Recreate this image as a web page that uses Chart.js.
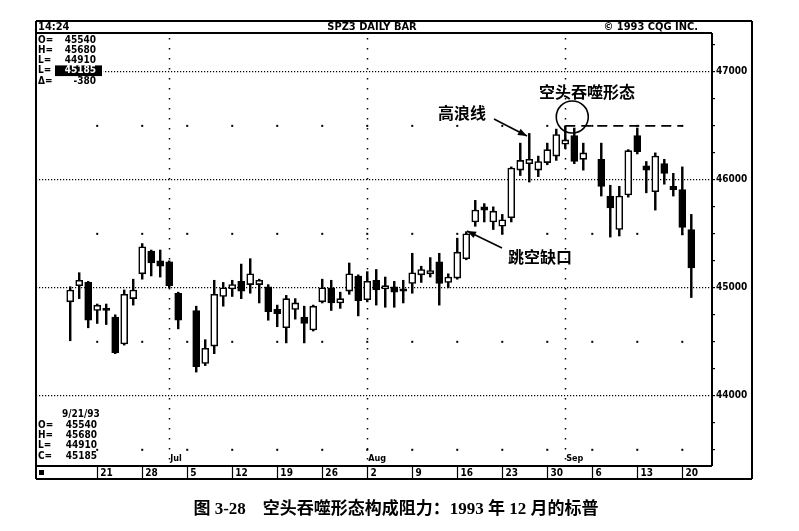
<!DOCTYPE html>
<html>
<head>
<meta charset="utf-8">
<script src="https://cdn.jsdelivr.net/npm/chart.js@4.4.0/dist/chart.umd.min.js"></script>
<style>
  html, body { margin: 0; padding: 0; background: #fff; }
  canvas { display: block; }
</style>
</head>
<body>
<canvas id="chart" width="799" height="531"></canvas>
<script>
// SPZ3 daily bars, Jun 16 - Sep 21 1993 (prices in chart units, 4700 = 470.00)
const dates = [
  '6/16', '6/17', '6/18', '6/21', '6/22', '6/23', '6/24', '6/25', '6/28', '6/29', '6/30',
  '7/1', '7/2', '7/6', '7/7', '7/8', '7/9', '7/12', '7/13', '7/14', '7/15', '7/16',
  '7/19', '7/20', '7/21', '7/22', '7/23', '7/26', '7/27', '7/28', '7/29', '7/30',
  '8/2', '8/3', '8/4', '8/5', '8/6', '8/9', '8/10', '8/11', '8/12', '8/13',
  '8/16', '8/17', '8/18', '8/19', '8/20', '8/23', '8/24', '8/25', '8/26', '8/27',
  '8/30', '8/31', '9/1', '9/2', '9/3', '9/7', '9/8', '9/9', '9/10',
  '9/13', '9/14', '9/15', '9/16', '9/17', '9/20', '9/21'
];
const opens = [
  4487, 4502, 4505, 4479, 4481, 4473, 4448, 4490, 4513, 4534, 4525,
  4524, 4495, 4479, 4430, 4446, 4492, 4499, 4506, 4503, 4503, 4501,
  4480, 4463, 4480, 4473, 4461, 4487, 4500, 4486, 4497, 4511,
  4489, 4507, 4499, 4501, 4499, 4504, 4512, 4513, 4524, 4505,
  4509, 4527, 4561, 4575, 4561, 4557, 4565, 4609, 4615, 4609,
  4616, 4622, 4633, 4641, 4619, 4619, 4585, 4554, 4586,
  4641, 4613, 4589, 4615, 4594, 4591, 4554
];
const highs = [
  4501, 4514, 4506, 4485, 4485, 4475, 4498, 4508, 4541, 4535, 4535,
  4525, 4496, 4483, 4452, 4507, 4505, 4507, 4522, 4527, 4508, 4503,
  4484, 4493, 4490, 4483, 4484, 4508, 4507, 4496, 4523, 4512,
  4515, 4517, 4510, 4506, 4507, 4532, 4520, 4528, 4532, 4513,
  4546, 4552, 4581, 4578, 4575, 4568, 4612, 4634, 4643, 4622,
  4634, 4647, 4650, 4648, 4634, 4634, 4595, 4594, 4628,
  4648, 4617, 4625, 4619, 4606, 4612, 4568
];
const lows = [
  4451, 4490, 4463, 4467, 4466, 4439, 4447, 4484, 4508, 4511, 4510,
  4500, 4462, 4422, 4428, 4439, 4483, 4492, 4490, 4495, 4486, 4470,
  4464, 4449, 4471, 4449, 4460, 4486, 4479, 4481, 4494, 4474,
  4487, 4484, 4482, 4482, 4486, 4495, 4505, 4510, 4484, 4500,
  4508, 4526, 4557, 4561, 4554, 4550, 4561, 4604, 4598, 4603,
  4614, 4618, 4629, 4615, 4609, 4585, 4547, 4548, 4584,
  4624, 4588, 4572, 4596, 4585, 4549, 4491
];
const closes = [
  4498, 4507, 4470, 4484, 4479, 4440, 4494, 4498, 4538, 4523, 4520,
  4502, 4470, 4427, 4444, 4494, 4500, 4503, 4497, 4513, 4507, 4478,
  4476, 4490, 4486, 4467, 4483, 4500, 4486, 4490, 4513, 4488,
  4506, 4498, 4502, 4496, 4497, 4514, 4517, 4516, 4504, 4510,
  4533, 4550, 4572, 4572, 4571, 4563, 4611, 4618, 4619, 4617,
  4628, 4642, 4637, 4617, 4625, 4594, 4574, 4585, 4627,
  4626, 4609, 4622, 4606, 4591, 4556, 4518.5
];

const weekLabels = ['21', '28', '5', '12', '19', '26', '2', '9', '16', '23', '30', '6', '13', '20'];
const monthNames = ['Jul', 'Aug', 'Sep'];
const monthStarts = ['7/1', '8/2', '9/1'];
const priceLabels = [4400, 4500, 4600, 4700];
const dotLevels = [4350, 4450, 4550, 4650];
const resistance = 4650;
const resistanceFrom = '9/1';
const resistanceTo = '9/20';

const headerLeft = '14:24';
const headerTitle = 'SPZ3 DAILY BAR';
const headerRight = '\u00a9 1993 CQG INC.';
const quoteTop = [['O=', '45540'], ['H=', '45680'], ['L=', '44910'], ['L=', '45185'], ['\u0394=', '-380']];
const quoteDate = '9/21/93';
const quoteBottom = [['O=', '45540'], ['H=', '45680'], ['L=', '44910'], ['C=', '45185']];
const caption = '图 3-28　空头吞噬形态构成阻力：1993 年 12 月的标普';

// weekday slot counted from Monday 14 June 1993 (holidays keep their slot)
const origin = Date.UTC(1993, 5, 14);
function slotOf(md) {
  const [m, d] = md.split('/').map(Number);
  const days = Math.round((Date.UTC(1993, m - 1, d) - origin) / 86400000);
  return Math.floor(days / 7) * 5 + (days % 7);
}

const slots = dates.map(slotOf);
const bodies = slots.map((x, i) => ({ x, y: [Math.min(opens[i], closes[i]), Math.max(opens[i], closes[i])] }));
const wicks = slots.map((x, i) => ({ x, y: [lows[i], highs[i]] }));
const bodyFill = closes.map((c, i) => (c >= opens[i] ? '#fff' : '#000'));

const CQG_FONT = '"DejaVu Sans Condensed", "DejaVu Sans", sans-serif';

function arrow(ctx, x1, y1, x2, y2) {
  ctx.beginPath();
  ctx.moveTo(x1, y1);
  ctx.lineTo(x2, y2);
  ctx.stroke();
  const a = Math.atan2(y2 - y1, x2 - x1), len = 9, w = 3.5;
  ctx.beginPath();
  ctx.moveTo(x2, y2);
  ctx.lineTo(x2 - len * Math.cos(a) + w * Math.sin(a), y2 - len * Math.sin(a) - w * Math.cos(a));
  ctx.lineTo(x2 - len * Math.cos(a) - w * Math.sin(a), y2 - len * Math.sin(a) + w * Math.cos(a));
  ctx.closePath();
  ctx.fill();
}

const overlay = {
  id: 'overlay',
  beforeDatasetsDraw(chart) {
    const { ctx, chartArea: area, scales: { x, y } } = chart;
    ctx.save();
    // month separators
    ctx.strokeStyle = '#000';
    ctx.lineWidth = 1.5;
    ctx.setLineDash([1.5, 8.5]);
    monthStarts.forEach(md => {
      const px = Math.round(x.getPixelForValue(slotOf(md))) + 0.5;
      ctx.beginPath();
      ctx.moveTo(px, area.top + 5);
      ctx.lineTo(px, area.bottom);
      ctx.stroke();
    });
    ctx.setLineDash([]);
    // sparse grid dots on the Mondays
    ctx.fillStyle = '#000';
    weekLabels.forEach((_, i) => {
      dotLevels.forEach(v => {
        ctx.fillRect(x.getPixelForValue(5 * (i + 1)) - 1, y.getPixelForValue(v) - 1, 2, 2);
      });
    });
    ctx.restore();
  },
  afterDraw(chart) {
    const { ctx, chartArea: area, scales: { x, y } } = chart;
    const L = area.left, R = area.right, T = area.top, B = area.bottom;
    const outerR = R + 40, outerT = T - 12, outerB = B + 13;
    ctx.save();

    // frame
    ctx.strokeStyle = '#000';
    ctx.lineWidth = 2;
    ctx.beginPath();
    ctx.moveTo(L, outerT); ctx.lineTo(outerR, outerT);
    ctx.moveTo(L, T); ctx.lineTo(R, T);
    ctx.moveTo(L, outerT); ctx.lineTo(L, outerB);
    ctx.moveTo(R, T); ctx.lineTo(R, B);
    ctx.moveTo(outerR, outerT); ctx.lineTo(outerR, outerB);
    ctx.moveTo(L, B); ctx.lineTo(R, B);
    ctx.moveTo(L, outerB); ctx.lineTo(outerR, outerB);
    ctx.stroke();

    // header
    ctx.fillStyle = '#000';
    ctx.font = 'bold 11px ' + CQG_FONT;
    ctx.textBaseline = 'middle';
    ctx.textAlign = 'left';
    ctx.fillText(headerLeft, L + 2, outerT + 6.5);
    ctx.textAlign = 'center';
    ctx.fillText(headerTitle, 372, outerT + 6.5);
    ctx.textAlign = 'right';
    ctx.fillText(headerRight, R - 14, outerT + 6.5);

    // quote box, top left
    ctx.font = 'bold 10px ' + CQG_FONT;
    quoteTop.forEach(([k, v], i) => {
      const ty = T + 7 + i * 10.3;
      ctx.fillStyle = '#fff';
      ctx.fillRect(L + 1, ty - 5, 66, 10);
      ctx.fillStyle = '#000';
      ctx.textAlign = 'left';
      ctx.fillText(k, L + 2, ty);
      if (i === 3) {
        ctx.fillRect(L + 19, ty - 5.5, 47, 11);
        ctx.fillStyle = '#fff';
      }
      ctx.textAlign = 'right';
      ctx.fillText(v, L + 60, ty);
    });

    // quote box, bottom left
    ctx.fillStyle = '#000';
    ctx.textAlign = 'left';
    ctx.fillText(quoteDate, L + 26, B - 52);
    quoteBottom.forEach(([k, v], i) => {
      const ty = B - 41 + i * 10.4;
      ctx.textAlign = 'left';
      ctx.fillText(k, L + 2, ty);
      ctx.textAlign = 'right';
      ctx.fillText(v, L + 61, ty);
    });

    // month names
    ctx.font = 'bold 9px ' + CQG_FONT;
    ctx.textAlign = 'left';
    monthNames.forEach((m, i) => {
      ctx.fillText(m, x.getPixelForValue(slotOf(monthStarts[i])) + 1, B - 7);
    });

    // first cell marker in the date row
    ctx.fillRect(L + 3, B + 4, 5, 5);

    // annotations
    ctx.font = 'bold 16px "Noto Sans CJK SC", sans-serif';
    ctx.textAlign = 'center';
    ctx.fillText('空头吞噬形态', 587, 92);
    ctx.fillText('高浪线', 462, 113);
    ctx.fillText('跳空缺口', 540, 257);

    ctx.lineWidth = 1.6;
    arrow(ctx, 494, 119, 527, 136);
    arrow(ctx, 502, 248, 467, 231);

    ctx.beginPath();
    ctx.arc(x.getPixelForValue(slotOf('9/1')) + 7, 117, 16, 0, Math.PI * 2);
    ctx.stroke();

    // caption
    ctx.font = 'bold 17px "Liberation Serif", "Noto Sans CJK SC", serif';
    ctx.textAlign = 'center';
    ctx.fillText(caption, 396, 510);
    ctx.restore();
  }
};

new Chart(document.getElementById('chart'), {
  type: 'bar',
  data: {
    datasets: [
      {
        type: 'line',
        data: [{ x: slotOf(resistanceFrom), y: resistance }, { x: slotOf(resistanceTo), y: resistance }],
        borderColor: '#000',
        borderWidth: 1.6,
        borderDash: [10, 6],
        pointRadius: 0,
        order: 0
      },
      {
        data: bodies,
        backgroundColor: bodyFill,
        borderColor: '#000',
        borderWidth: 1.6,
        borderSkipped: false,
        barThickness: 7,
        grouped: false,
        order: 1
      },
      {
        data: wicks,
        backgroundColor: '#000',
        borderWidth: 0,
        barThickness: 1.8,
        grouped: false,
        order: 2
      }
    ]
  },
  options: {
    responsive: false,
    animation: false,
    layout: { padding: { left: 36, right: 47, top: 33, bottom: 52 } },
    plugins: { legend: { display: false }, tooltip: { enabled: false } },
    scales: {
      x: {
        type: 'linear',
        position: 'bottom',
        offset: false,
        min: -1.8,
        max: 73.3,
        afterBuildTicks: axis => { axis.ticks = weekLabels.map((_, i) => ({ value: 5 * (i + 1) })); },
        afterFit: axis => { axis.height = 13; },
        ticks: {
          autoSkip: false,
          maxRotation: 0,
          align: 'start',
          padding: -12,
          color: '#000',
          font: { family: CQG_FONT, size: 10, weight: 'bold' },
          callback: (v, i) => ' ' + weekLabels[i]
        },
        grid: { offset: false, drawOnChartArea: false, drawTicks: true, tickLength: 13, tickColor: '#000', tickWidth: 1.2 },
        border: { display: false }
      },
      y: {
        type: 'linear',
        position: 'right',
        min: 4335,
        max: 4736,
        afterBuildTicks: axis => {
          const t = [];
          for (let v = 4350; v <= 4725; v += 25) t.push({ value: v });
          axis.ticks = t;
        },
        afterFit: axis => { axis.width = 40; },
        ticks: {
          autoSkip: false,
          padding: 1,
          color: '#000',
          font: { family: CQG_FONT, size: 10, weight: 'bold' },
          callback: v => (priceLabels.includes(v) ? String(v * 10) : '')
        },
        grid: {
          color: ctx => (priceLabels.includes(ctx.tick && ctx.tick.value) ? '#000' : 'rgba(0,0,0,0)'),
          lineWidth: 1.2,
          drawTicks: true,
          tickLength: 3,
          tickColor: '#000',
          tickWidth: 1.2
        },
        border: { display: false, dash: [1.2, 1.8] }
      }
    }
  },
  plugins: [overlay]
});
</script>
</body>
</html>
